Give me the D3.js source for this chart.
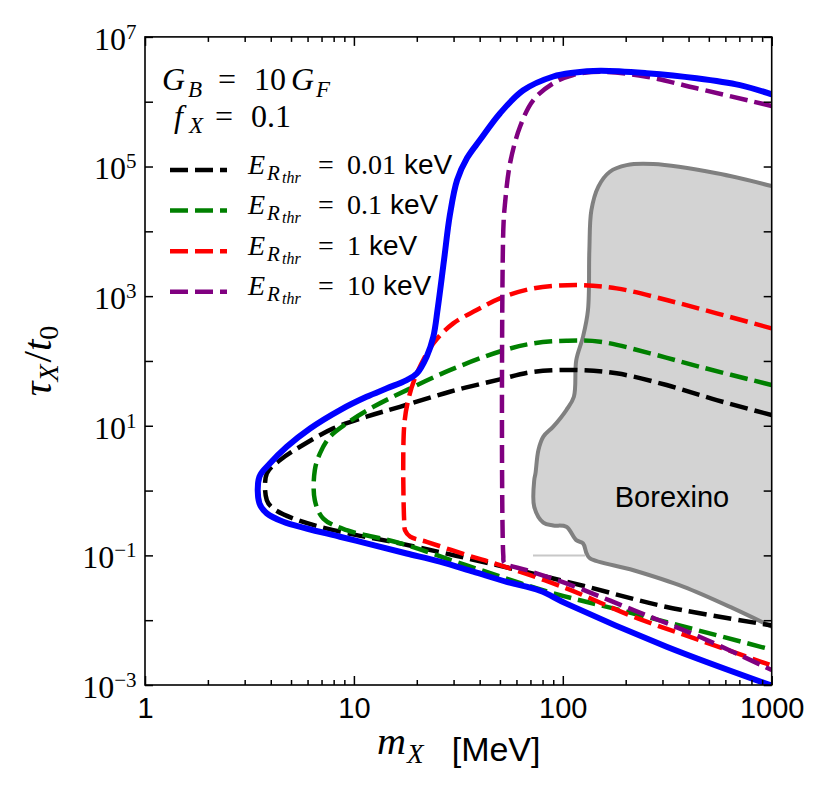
<!DOCTYPE html>
<html><head><meta charset="utf-8">
<script src="https://cdn.jsdelivr.net/npm/d3@7"></script>
<style>body{margin:0;background:#fff} svg{display:block}</style>
</head><body><svg id="c" width="830" height="797"></svg>
<script>
// ---------------- data ----------------
const massTicks = [1, 10, 100, 1000];
const massTickLabels = ["1", "10", "100", "1000"];
const tauTicks = [1e-3, 1e-2, 1e-1, 1, 1e1, 1e2, 1e3, 1e4, 1e5, 1e6, 1e7];
const tauLabelExps = [-3, -1, 1, 3, 5, 7];

// envelope (solid blue)
const envelopeMass = [1000, 705, 437, 252, 151, 112, 90, 64.7, 50, 40.1, 34.8, 31.2, 28.8, 27.0, 25.2, 24, 22.3, 20, 17.9, 14.4, 11.5, 8.58, 6.17, 4.77, 3.97, 3.53, 3.53, 3.83, 4.59, 5.94, 8.58, 12.4, 17.9, 25.8, 37.3, 53.9, 77.8, 104, 314, 1000];
const envelopeTau  = [1.3e6, 1.8e6, 2.3e6, 2.75e6, 3.0e6, 2.8e6, 2.45e6, 1.5e6, 6.6e5, 2.56e5, 1.35e5, 6.2e4, 1.78e4, 3.6e3, 650, 236, 116, 64, 50.7, 37.8, 28, 17.5, 9.1, 4.74, 2.63, 1.63, 0.635, 0.445, 0.33, 0.26, 0.194, 0.144, 0.107, 0.080, 0.056, 0.039, 0.0285, 0.018, 0.0039, 0.00098];

// E_R_thr = 0.01 keV (black)
const thr001Mass = [1000, 545, 314, 181, 116.6, 72.3, 50, 28.8, 16.6, 11.5, 7.97, 5.52, 4.43, 3.83, 3.83, 4.11, 5.13, 7.97, 16.6, 50, 125, 314, 1000];
const thr001Tau  = [14.6, 24.9, 42.5, 64.4, 72.4, 68, 52, 33.5, 19.6, 13.8, 9.1, 4.74, 2.95, 1.84, 0.71, 0.53, 0.37, 0.245, 0.153, 0.069, 0.034, 0.016, 0.0083];

// E_R_thr = 0.1 keV (green)
const thr01Mass = [1000, 454, 262, 151, 104, 72.3, 50, 28.8, 17.9, 12.4, 9.24, 7.69, 6.88, 6.5, 6.5, 7.14, 9.24, 16.6, 34.7, 86.8, 218, 1000];
const thr01Tau  = [42.5, 81, 131, 198, 205, 187, 140, 72, 35.5, 19.6, 10.9, 6.8, 3.75, 2.07, 0.71, 0.37, 0.245, 0.155, 0.07, 0.027, 0.0127, 0.0035];

// E_R_thr = 1 keV (red)
const thr1Mass = [1000, 545, 314, 181, 116.6, 72.3, 50, 38.7, 29.9, 24, 20, 18.2, 17.4, 17.4, 17.6, 18.6, 22.3, 34.7, 50, 104, 218, 454, 1000];
const thr1Tau  = [318, 543, 871, 1318, 1484, 1318, 925, 610, 380, 187, 64, 25, 9.7, 0.35, 0.24, 0.194, 0.162, 0.101, 0.071, 0.031, 0.0113, 0.0049, 0.0020];

// E_R_thr = 10 keV (purple)
const thr10Mass = [1000, 437, 252, 151, 112, 90, 72.3, 62.4, 55.9, 52.9, 51.9, 51.9, 52.5, 67.2, 104, 218, 454, 1000];
const thr10Tau  = [8.6e5, 1.61e6, 2.43e6, 2.9e6, 2.58e6, 1.92e6, 1.06e6, 4.1e5, 1.12e5, 2.7e4, 1.05e4, 0.1, 0.077, 0.059, 0.037, 0.0143, 0.0055, 0.0017];

// Borexino excluded region (outline)
const borexMass = [1000, 545, 271, 202, 168, 148, 137, 134, 132, 125, 116, 113, 104, 90, 80.7, 76.4, 74, 73, 73, 80.7, 90, 104, 116, 125, 130, 135, 218, 377, 655, 1000];
const borexTau  = [5.0e4, 7.85e4, 1.09e5, 1.05e5, 8.3e4, 4.9e4, 2.1e4, 5.1e3, 610, 237, 103, 28, 17.5, 9.7, 6.8, 4.2, 1.84, 1.45, 0.56, 0.32, 0.29, 0.276, 0.172, 0.153, 0.107, 0.09, 0.059, 0.033, 0.0152, 0.0079];
const borexLineMass = [72, 128];
const borexLineTau = [0.1, 0.1];

const seriesNames = ["0.01", "0.1", "1", "10"];
const seriesColors = ["#000000", "#008000", "#ff0000", "#800080"];

// ---------------- drawing ----------------
const W = 830, H = 797;
const L = 145, R = 771.7, T = 36.9, B = 685;
const x = d3.scaleLog().domain([1, 1000]).range([L, R]);
const y = d3.scaleLog().domain([1e-3, 1e7]).range([B, T]);
const SERIF = "'Liberation Serif','DejaVu Serif',serif";
const SANS = "'Liberation Sans','DejaVu Sans',sans-serif";

const svg = d3.select("#c");
svg.append("rect").attr("width", W).attr("height", H).attr("fill", "#fff");
svg.append("defs").append("clipPath").attr("id", "clip")
  .append("rect").attr("x", L).attr("y", T).attr("width", R - L).attr("height", B - T);

const zip = (ms, ts) => ms.map((m, i) => [m, ts[i]]);
const line = d3.line().x(d => x(d[0])).y(d => y(d[1])).curve(d3.curveCatmullRom.alpha(0.5));
const plot = svg.append("g").attr("clip-path", "url(#clip)");

// Borexino
const borex = zip(borexMass, borexTau);
plot.append("path").attr("d", line(borex) + "Z").attr("fill", "#d3d3d3").attr("stroke", "none");
plot.append("path").attr("d", line(borex)).attr("fill", "none").attr("stroke", "#808080").attr("stroke-width", 4);
plot.append("path").attr("d", d3.line().x(d => x(d[0])).y(d => y(d[1]))(zip(borexLineMass, borexLineTau)))
  .attr("stroke", "#c8c8c8").attr("stroke-width", 2).attr("fill", "none");

// dashed threshold curves
const dashed = [
  zip(thr001Mass, thr001Tau), zip(thr01Mass, thr01Tau), zip(thr1Mass, thr1Tau), zip(thr10Mass, thr10Tau)
];
dashed.forEach((pts, i) => {
  plot.append("path").attr("d", line(pts)).attr("fill", "none")
    .attr("stroke", seriesColors[i]).attr("stroke-width", 4.5).attr("stroke-dasharray", "18,7");
});

// envelope
plot.append("path").attr("d", line(zip(envelopeMass, envelopeTau))).attr("fill", "none")
  .attr("stroke", "#0000ff").attr("stroke-width", 6).attr("stroke-linejoin", "round");

// Borexino label
svg.append("text").attr("x", 672).attr("y", 507).attr("text-anchor", "middle")
  .attr("font-family", SANS).attr("font-size", 29).text("Borexino");

// ---------------- axes ----------------
const minorMass = x.ticks().filter(v => massTicks.indexOf(v) < 0);
function styleAxis(g) {
  g.select(".domain").remove();
  g.selectAll(".tick line").attr("stroke", "#000").attr("stroke-width", 1.5);
}
const gxB = svg.append("g").attr("transform", `translate(0,${B})`)
  .call(d3.axisBottom(x).tickValues(massTicks).tickSizeInner(-9).tickSizeOuter(0).tickPadding(12)
    .tickFormat((d, i) => massTickLabels[i]));
styleAxis(gxB);
gxB.selectAll(".tick text").attr("font-family", SANS).attr("font-size", 29).attr("fill", "#000");
styleAxis(svg.append("g").attr("transform", `translate(0,${B})`)
  .call(d3.axisBottom(x).tickValues(minorMass).tickSizeInner(-5).tickSizeOuter(0).tickFormat("")));
styleAxis(svg.append("g").attr("transform", `translate(0,${T})`)
  .call(d3.axisTop(x).tickValues(massTicks).tickSizeInner(-9).tickSizeOuter(0).tickFormat("")));
styleAxis(svg.append("g").attr("transform", `translate(0,${T})`)
  .call(d3.axisTop(x).tickValues(minorMass).tickSizeInner(-5).tickSizeOuter(0).tickFormat("")));
const gyL = svg.append("g").attr("transform", `translate(${L},0)`)
  .call(d3.axisLeft(y).tickValues(tauTicks).tickSizeInner(-8).tickSizeOuter(0).tickFormat(""));
styleAxis(gyL);
styleAxis(svg.append("g").attr("transform", `translate(${R},0)`)
  .call(d3.axisRight(y).tickValues(tauTicks).tickSizeInner(-8).tickSizeOuter(0).tickFormat("")));

tauLabelExps.forEach(e => {
  const t = svg.append("text").attr("x", L - 8.5).attr("y", y(Math.pow(10, e)) + 12.8)
    .attr("text-anchor", "end").attr("font-family", SERIF).attr("font-size", 32).attr("fill", "#000");
  t.append("tspan").text("10");
  t.append("tspan").attr("dy", -11).attr("font-size", 21).text(e < 0 ? "\u2212" + (-e) : String(e));
});

// frame
svg.append("rect").attr("x", L).attr("y", T).attr("width", R - L).attr("height", B - T)
  .attr("fill", "none").attr("stroke", "#000").attr("stroke-width", 1.6);

// axis titles
svg.append("text").attr("x", 377).attr("y", 754).attr("font-family", SERIF).attr("font-size", 37)
  .attr("font-style", "italic").attr("textLength", 29).attr("lengthAdjust", "spacingAndGlyphs").text("m");
svg.append("text").attr("x", 407).attr("y", 763).attr("font-family", SERIF).attr("font-size", 27)
  .attr("font-style", "italic").text("X");
svg.append("text").attr("x", 451.7).attr("y", 761).attr("font-family", SANS).attr("font-size", 34).text("[MeV]");

const yl = svg.append("text").attr("transform", "translate(51,361) rotate(-90)")
  .attr("text-anchor", "middle").attr("font-family", SERIF).attr("font-size", 41);
yl.append("tspan").attr("font-style", "italic").text("\u03C4");
yl.append("tspan").attr("font-style", "italic").attr("font-size", 28).attr("dy", 7).text("X");
yl.append("tspan").attr("dy", -7).attr("dx", 2).text("/");
yl.append("tspan").attr("font-style", "italic").text("t");
yl.append("tspan").attr("font-size", 28).attr("dy", 7).text("0");

// annotation
const a1 = svg.append("text").attr("y", 90).attr("font-family", SERIF).attr("font-size", 32);
a1.append("tspan").attr("x", 162).attr("font-style", "italic").text("G");
a1.append("tspan").attr("x", 188).attr("font-style", "italic").attr("font-size", 23).attr("dy", 7).text("B");
a1.append("tspan").attr("x", 218).attr("dy", -7).text("=");
a1.append("tspan").attr("x", 254).text("10");
a1.append("tspan").attr("x", 291).attr("font-style", "italic").text("G");
a1.append("tspan").attr("x", 316).attr("font-style", "italic").attr("font-size", 23).attr("dy", 7).text("F");

const a2 = svg.append("text").attr("y", 127).attr("font-family", SERIF).attr("font-size", 32);
a2.append("tspan").attr("x", 174).attr("font-style", "italic").text("f");
a2.append("tspan").attr("x", 189).attr("font-style", "italic").attr("font-size", 23).attr("dy", 6).text("X");
a2.append("tspan").attr("x", 215).attr("dy", -6).text("=");
a2.append("tspan").attr("x", 251).text("0.1");

// legend
seriesNames.forEach((name, i) => {
  const ry = 170 + i * 40.6;
  svg.append("line").attr("x1", 170).attr("x2", 227).attr("y1", ry).attr("y2", ry)
    .attr("stroke", seriesColors[i]).attr("stroke-width", 4.5).attr("stroke-dasharray", "18,7");
  const t = svg.append("text").attr("y", ry + 3.5).attr("font-family", SERIF).attr("font-size", 28);
  t.append("tspan").attr("x", 248).attr("font-style", "italic").text("E");
  t.append("tspan").attr("x", 267).attr("font-style", "italic").attr("font-size", 21).attr("dy", 6).text("R");
  t.append("tspan").attr("x", 282).attr("font-style", "italic").attr("font-size", 16).attr("dy", 3).text("thr");
  t.append("tspan").attr("x", 318).attr("dy", -9).text("=");
  t.append("tspan").attr("x", 347).text(name);
  t.append("tspan").attr("dx", 8).attr("font-family", SANS).text("keV");
});
</script>
</body></html>
